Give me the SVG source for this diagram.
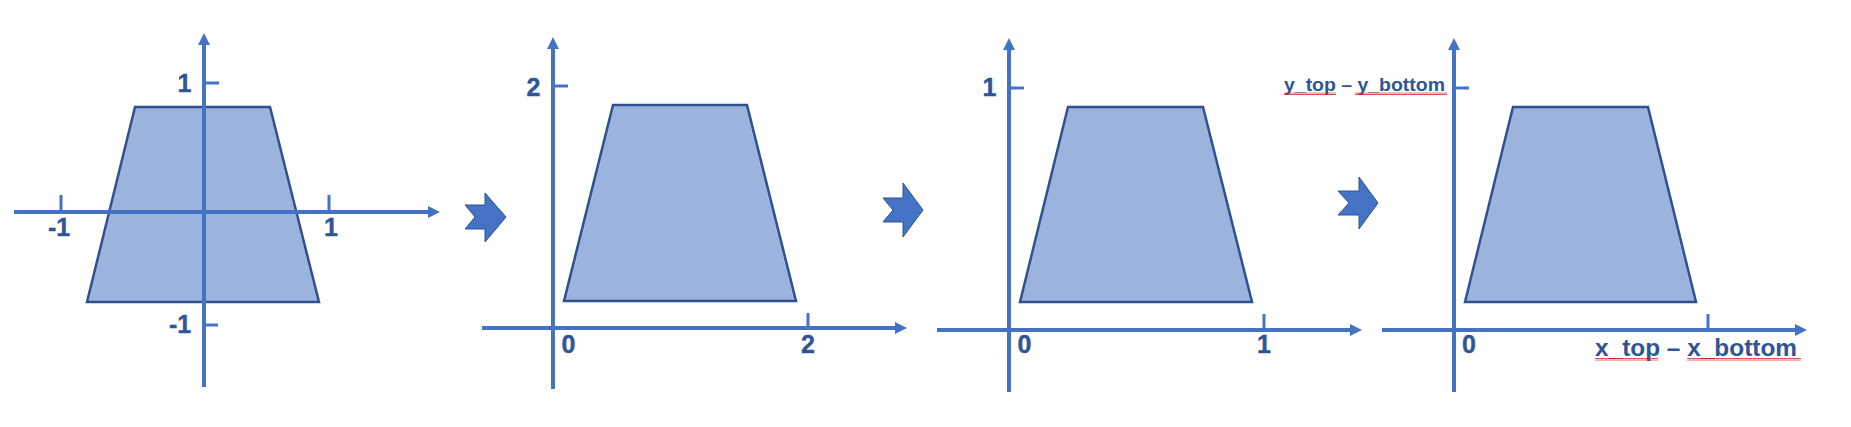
<svg xmlns="http://www.w3.org/2000/svg" width="1851" height="427" viewBox="0 0 1851 427">
<style>
.ax{stroke:#4472C4;stroke-width:4;fill:none;marker-end:url(#ah)}
.tk{stroke:#4472C4;stroke-width:3;fill:none}
.tr{fill:#9CB3DE;stroke:#2F528F;stroke-width:2.5;stroke-linejoin:miter}
.lb{font-family:"Liberation Sans",Arial,sans-serif;font-weight:bold;font-size:25px;fill:#2F5597;text-anchor:middle;stroke:#2F5597;stroke-width:0.4}
.lt{font-family:"Liberation Sans",Arial,sans-serif;font-weight:bold;fill:#2F5597}
.ch{fill:#4472C4;stroke:#2F528F;stroke-width:1}
.sq{fill:url(#squig)}
</style>
<defs>
<marker id="ah" viewBox="0 0 12 12" markerWidth="12" markerHeight="12" markerUnits="userSpaceOnUse" refX="0" refY="6" orient="auto">
<path d="M0,0 L12,6 L0,12 z" fill="#4472C4"/>
</marker>
<pattern id="squig" width="4" height="3" patternUnits="userSpaceOnUse">
<polyline points="0,2.5 1,0.5 2,2.5 3,0.5 4,2.5" fill="none" stroke="#E02020" stroke-width="0.8"/>
</pattern>
</defs>
<rect width="1851" height="427" fill="#FFFFFF"/>

<g id="panel1">
<polygon class="tr" points="135,107 270,107 319,302 87,302"/>
<line class="ax" x1="14" y1="212" x2="428" y2="212"/>
<line class="ax" x1="204" y1="387" x2="204" y2="45"/>
<line class="tk" x1="61" y1="195" x2="61" y2="212"/>
<line class="tk" x1="329" y1="195" x2="329" y2="212"/>
<line class="tk" x1="204" y1="83" x2="219" y2="83"/>
<line class="tk" x1="204" y1="325" x2="218" y2="325"/>
<text class="lb" x="184.5" y="92">1</text>
<text class="lb" x="59" y="236">-1</text>
<text class="lb" x="331" y="236">1</text>
<text class="lb" x="180" y="333">-1</text>
</g>

<g id="panel2">
<polygon class="tr" points="613,105 747,105 796,301 564,301"/>
<line class="ax" x1="482" y1="328" x2="895" y2="328"/>
<line class="ax" x1="553" y1="389" x2="553" y2="49"/>
<line class="tk" x1="553" y1="86" x2="568" y2="86"/>
<line class="tk" x1="808" y1="313" x2="808" y2="328"/>
<text class="lb" x="533.5" y="96">2</text>
<text class="lb" x="568.5" y="353">0</text>
<text class="lb" x="808" y="353">2</text>
</g>

<g id="panel3">
<polygon class="tr" points="1068,107 1203,107 1252,302 1020,302"/>
<line class="ax" x1="937" y1="330" x2="1350" y2="330"/>
<line class="ax" x1="1009" y1="392" x2="1009" y2="50"/>
<line class="tk" x1="1009" y1="88" x2="1024" y2="88"/>
<line class="tk" x1="1264" y1="314" x2="1264" y2="330"/>
<text class="lb" x="989.5" y="96">1</text>
<text class="lb" x="1024.5" y="353">0</text>
<text class="lb" x="1264" y="353">1</text>
</g>

<g id="panel4">
<polygon class="tr" points="1513,107 1648,107 1696,302 1465,302"/>
<line class="ax" x1="1382" y1="330" x2="1795" y2="330"/>
<line class="ax" x1="1454" y1="392" x2="1454" y2="50"/>
<line class="tk" x1="1454" y1="88" x2="1469" y2="88"/>
<line class="tk" x1="1708" y1="314" x2="1708" y2="330"/>
<text class="lb" x="1469" y="353">0</text>
<text class="lt" x="1284" y="91" font-size="19" textLength="161" lengthAdjust="spacingAndGlyphs">y_top – y_bottom</text>
<rect class="sq" x="1284" y="92" width="52" height="3"/>
<rect class="sq" x="1355" y="92" width="92" height="3"/>
<text class="lt" x="1595" y="356" font-size="24" textLength="202" lengthAdjust="spacingAndGlyphs">x_top – x_bottom</text>
<rect class="sq" x="1595" y="358" width="63" height="3"/>
<rect class="sq" x="1687" y="358" width="114" height="3"/>
</g>

<g id="connectors">
<polygon class="ch" points="465,205 485,205 485,193 506,217 485,242 485,229 465,229 475,217"/>
<polygon class="ch" points="883,198 903,198 903,183 923,210 903,237 903,222 883,222 893,210"/>
<polygon class="ch" points="1338,191 1359,191 1359,177 1378,203 1359,229 1359,215 1338,215 1349,203"/>
</g>
</svg>
